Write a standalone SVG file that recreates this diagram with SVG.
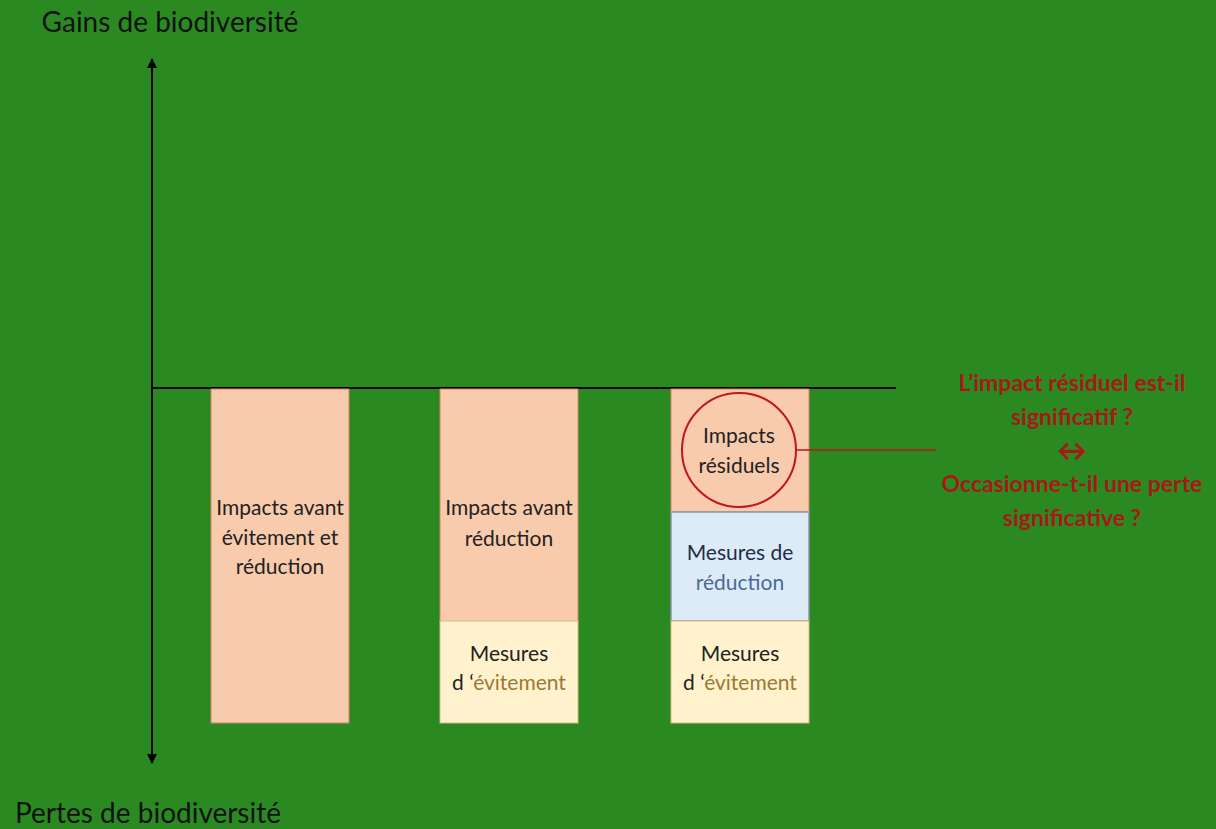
<svg xmlns="http://www.w3.org/2000/svg" width="1216" height="829" viewBox="0 0 1216 829">
<defs>
<marker id="ah" viewBox="0 0 10 10" refX="9" refY="5" markerWidth="10" markerHeight="11" markerUnits="userSpaceOnUse" orient="auto">
<path d="M0,0 L10,5 L0,10 z" fill="#000"/>
</marker>
</defs>
<style>
text{font-family:Lato,"Open Sans","Noto Sans",sans-serif;text-anchor:middle}
.ax{font-size:28px;fill:#111}
.bx{font-size:21px;fill:#222}
.q{font-size:23px;fill:#a81818;font-weight:bold}
.pink{fill:#F8CBAD;stroke:#d9826a;stroke-width:1}
.yel{fill:#FFF2CC;stroke:#d9b88a;stroke-width:1}
.blu{fill:#DDEBF7;stroke:#8a96a8;stroke-width:1.5}
.ev{fill:#9a7a35}
</style>
<rect width="1216" height="829" fill="#2A8A21"/>
<g id="axes">
<line x1="152" y1="388" x2="152" y2="59" stroke="#000" stroke-width="2" marker-end="url(#ah)"/>
<line x1="152" y1="388" x2="152" y2="763" stroke="#000" stroke-width="2" marker-end="url(#ah)"/>
<line x1="152" y1="388" x2="896" y2="388" stroke="#000" stroke-width="2"/>
<text class="ax" x="170" y="32">Gains de biodiversité</text>
<text class="ax" x="148" y="823">Pertes de biodiversité</text>
</g>
<g id="bar1">
<rect class="pink" x="211" y="389" width="138" height="334"/>
<text class="bx" x="280" y="515">Impacts avant</text>
<text class="bx" x="280" y="545">évitement et</text>
<text class="bx" x="280" y="574">réduction</text>
</g>
<g id="bar2">
<rect class="pink" x="440" y="389" width="138" height="233"/>
<text class="bx" x="509" y="515">Impacts avant</text>
<text class="bx" x="509" y="546">réduction</text>
<rect class="yel" x="440" y="621" width="138" height="102"/>
<text class="bx" x="509" y="661">Mesures</text>
<text class="bx" x="509" y="690">d ‘<tspan class="ev">évitement</tspan></text>
</g>
<g id="bar3">
<rect class="pink" x="671" y="389" width="138" height="123"/>
<rect class="blu" x="671" y="512" width="138" height="109"/>
<text class="bx" x="740" y="560" style="fill:#1f2d4a">Mesures de</text>
<text class="bx" x="740" y="590" style="fill:#4a6a98">réduction</text>
<rect class="yel" x="671" y="621" width="138" height="102"/>
<text class="bx" x="740" y="661">Mesures</text>
<text class="bx" x="740" y="690">d ‘<tspan class="ev">évitement</tspan></text>
</g>
<g id="residuel">
<circle cx="739" cy="450" r="57" fill="none" stroke="#c0161e" stroke-width="2"/>
<text class="bx" x="739" y="443">Impacts</text>
<text class="bx" x="739" y="473">résiduels</text>
</g>
<g id="connectors">
<line x1="796" y1="450" x2="936" y2="450" stroke="#c0161e" stroke-width="1.5"/>
</g>
<g id="question">
<text class="q" x="1072" y="391">L’impact  résiduel est-il</text>
<text class="q" x="1072" y="425">significatif ?</text>
<text class="q" x="1072" y="461" style="font-size:30px">↔</text>
<text class="q" x="1072" y="492">Occasionne-t-il une perte</text>
<text class="q" x="1072" y="526">significative ?</text>
</g>
</svg>
